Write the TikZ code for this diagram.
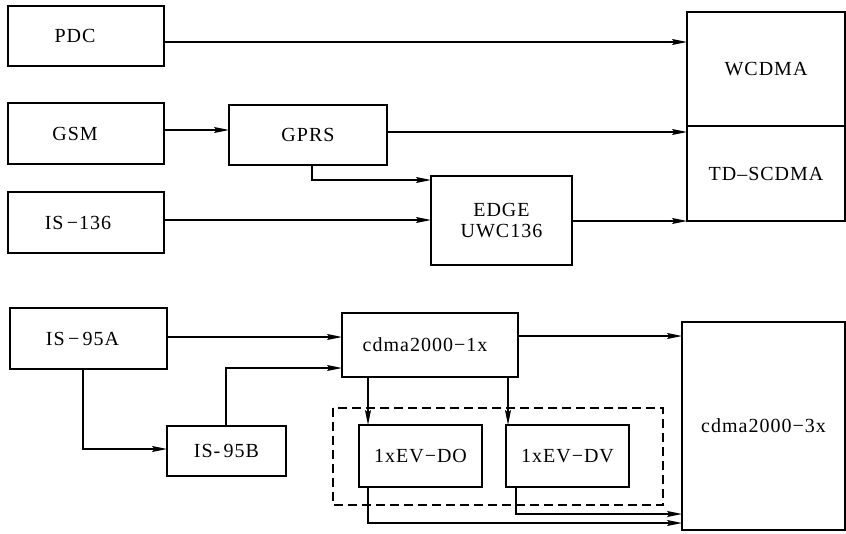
\documentclass[tikz,border=0pt]{standalone}
\usepackage{fontspec}
\setmainfont{Liberation Serif}[LetterSpace=5]
\usetikzlibrary{arrows.meta}
\tikzset{
  blk/.style={draw, line width=2.2pt, inner sep=0pt, outer sep=0pt, anchor=north west,
    font=\fontsize{20}{21}\selectfont, align=center},
  con/.style={line width=1.3pt, -{Stealth[length=15pt,width=6pt,inset=2.5pt]}},
  grp/.style={line width=1.3pt, dash pattern=on 9pt off 5pt},
}
\begin{document}
\begin{tikzpicture}[x=1pt,y=-1pt]
\useasboundingbox (0,0) rectangle (846,533);
% top group
\node[blk, minimum width=156, minimum height=60] (pdc) at (8,6) {PDC\hspace*{22pt}};
\node[blk, minimum width=156, minimum height=61] (gsm) at (8,103) {GSM\hspace*{22pt}};
\node[blk, minimum width=156, minimum height=61] (is136) at (8,192) {IS\,−136\hspace*{16pt}};
\node[blk, minimum width=158, minimum height=60] (gprs) at (229,105) {GPRS};
\node[blk, minimum width=141, minimum height=89] (edge) at (431,176) {EDGE\\UWC136};
\node[blk, minimum width=158, minimum height=114] (wcdma) at (687,12) {WCDMA};
\node[blk, minimum width=158, minimum height=95] (td) at (687,126) {TD–SCDMA};
% bottom group
\node[blk, minimum width=157, minimum height=61] (is95a) at (10,308) {IS\,−\,95A\hspace*{12pt}};
\node[blk, minimum width=176, minimum height=64] (c1x) at (342,313) {cdma2000\kern1pt−\kern1pt1x\hspace*{10pt}};
\node[blk, minimum width=119, minimum height=50] (is95b) at (167,426) {IS-\,95B};
\node[blk, minimum width=123, minimum height=62] (evdo) at (359,425) {1xEV\kern1pt−\kern1ptDO};
\node[blk, minimum width=123, minimum height=62] (evdv) at (506,425) {1xEV\kern1pt−\kern1ptDV};
\node[blk, minimum width=163, minimum height=208] (c3x) at (682,322) {cdma2000\kern1pt−\kern1pt3x};
\coordinate (dnw) at (333,408);
\coordinate (dse) at (663,505);
\draw[grp] (dnw) rectangle (dse);
% connectors top
\draw[con] (pdc.east |- 0,42) -- (wcdma.west |- 0,42);
\draw[con] (gsm.east |- 0,130) -- (gprs.west |- 0,130);
\draw[con] (gprs.east |- 0,132) -- (td.west |- 0,132);
\draw[con] (312,165) |- (edge.west |- 0,180);
\draw[con] (is136.east |- 0,220) -- (edge.west |- 0,220);
\draw[con] (edge.east |- 0,221) -- (td.south west);
% connectors bottom
\draw[con] (is95a.east |- 0,337) -- (c1x.west |- 0,337);
\draw[con] (83,369) |- (is95b.west |- 0,449);
\draw[con] (226,426) |- (c1x.west |- 0,368);
\draw[con] (c1x.east |- 0,336) -- (c3x.west |- 0,336);
\draw[con] (368,377) -- (368,425);
\draw[con] (508,377) -- (508,425);
\draw[con] (368,487) |- (c3x.west |- 0,523);
\draw[con] (516,487) |- (c3x.west |- 0,514);
\end{tikzpicture}
\end{document}
